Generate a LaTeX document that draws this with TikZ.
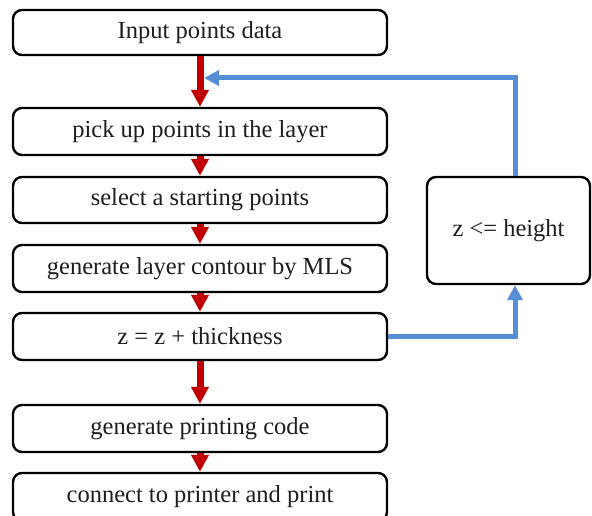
\documentclass[tikz,border=0pt]{standalone}
\usepackage{fontspec}
\setmainfont{Liberation Serif}
\usetikzlibrary{arrows.meta}
\definecolor{redarr}{RGB}{192,0,0}
\definecolor{bluearr}{RGB}{85,142,213}
\definecolor{txt}{RGB}{30,30,30}
\begin{document}
\begin{tikzpicture}[x=1pt,y=-1pt,
  stepbox/.style={draw=black,line width=2.4pt,rounded corners=9pt,fill=white,
    minimum width=374pt,inner sep=0pt,text=txt,font=\fontsize{24.5}{29}\selectfont},
  redflow/.style={draw=redarr,line width=7pt,-{Triangle[width=17pt,length=17pt]}},
  blueflow/.style={draw=bluearr,line width=5pt,-{Triangle[width=15pt,length=15pt]}}]
\useasboundingbox (0,0) rectangle (592,516);
\clip (0,0) rectangle (592,516);
\node[stepbox,minimum height=45pt] (b1) at (200,32.5) {Input points data};
\node[stepbox,minimum height=47pt] (b2) at (200,131.5) {pick up points in the layer};
\node[stepbox,minimum height=46pt] (b3) at (200,200) {select a starting points};
\node[stepbox,minimum height=47pt] (b4) at (200,268.5) {generate layer contour by MLS};
\node[stepbox,minimum height=47pt] (b5) at (200,336.5) {z = z + thickness};
\node[stepbox,minimum height=47pt] (b6) at (200,428.5) {generate printing code};
\node[stepbox,minimum height=48pt] (b7) at (200,497) {connect to printer and print};
\node[stepbox,minimum width=163pt,minimum height=107pt] (zb) at (508.5,230.5) {z <= height};
\coordinate (join) at (204,78);
\draw[redflow] (b1) -- (b2);
\draw[redflow] (b2) -- (b3);
\draw[redflow] (b3) -- (b4);
\draw[redflow] (b4) -- (b5);
\draw[redflow] (b5) -- (b6);
\draw[redflow] (b6) -- (b7);
\draw[blueflow] (b5.east) -| ([xshift=6.5pt]zb.south);
\draw[blueflow] ([xshift=6.5pt]zb.north) |- (join);
\end{tikzpicture}
\end{document}
